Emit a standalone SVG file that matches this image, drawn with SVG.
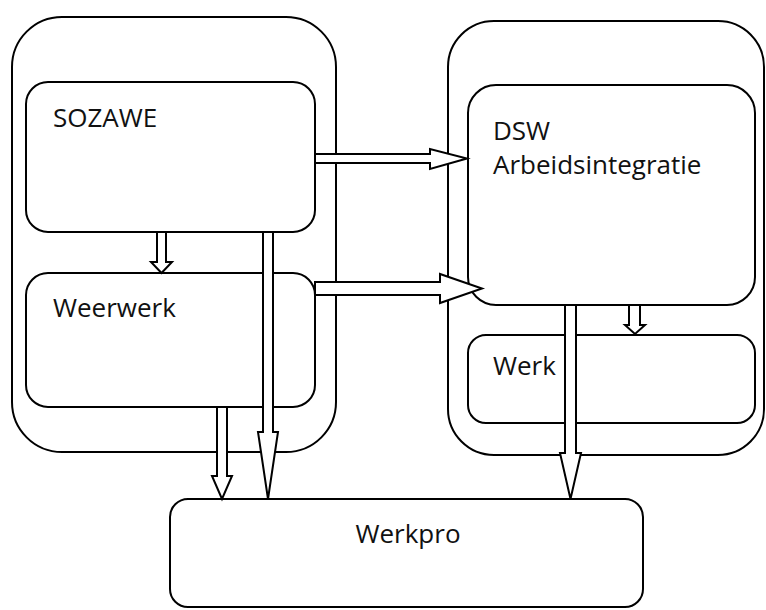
<svg xmlns="http://www.w3.org/2000/svg" width="766" height="610" viewBox="0 0 766 610">
<style>
.box{fill:#fff;stroke:#000;stroke-width:2}
.lbl{font-family:"Open Sans","Noto Sans","Liberation Sans",sans-serif;font-size:26px;fill:#111}
.arr{fill:#fff;stroke:#000;stroke-width:2;stroke-linejoin:miter}
</style>
<rect width="766" height="610" fill="#fff"/>
<g id="container-left"><rect class="box" x="12" y="17" width="324" height="435" rx="50" ry="50"/></g>
<g id="container-right"><rect class="box" x="448" y="21" width="316" height="434" rx="46" ry="46"/></g>
<g id="sozawe"><rect class="box" x="26" y="82" width="289" height="150" rx="22" ry="22"/><text class="lbl" x="53" y="127">SOZAWE</text></g>
<g id="weerwerk"><rect class="box" x="26" y="273" width="289" height="134" rx="22" ry="22"/><text class="lbl" x="53" y="317">Weerwerk</text></g>
<g id="dsw"><rect class="box" x="468" y="85" width="287" height="220" rx="28" ry="28"/><text class="lbl" x="493" y="140">DSW</text><text class="lbl" x="493" y="174">Arbeidsintegratie</text></g>
<g id="werk"><rect class="box" x="468" y="335" width="287" height="88" rx="18" ry="18"/><text class="lbl" x="493" y="375">Werk</text></g>
<g id="werkpro"><rect class="box" x="170" y="499" width="473" height="108" rx="18" ry="18"/><text class="lbl" x="408" y="543" text-anchor="middle">Werkpro</text></g>
<g id="connectors">
<polygon class="arr" points="315,154 430,154 430,149 467,158.5 430,169 430,163 315,163"/>
<polygon class="arr" points="315,282 440,282 440,274 482,288.5 440,303 440,295 315,295"/>
<polygon class="arr" points="157,232 166,232 166,262 172,262 161.5,273 151,262 157,262"/>
<polygon class="arr" points="263,232 273,232 273,432 278,432 268,499 258,432 263,432"/>
<polygon class="arr" points="217,407 227,407 227,476 232,476 222,499 212,476 217,476"/>
<polygon class="arr" points="629,305 640,305 640,325 645,325 635,334 625,325 629,325"/>
<polygon class="arr" points="565,305 576,305 576,453 581,453 570.5,499 560,453 565,453"/>
</g>
</svg>
